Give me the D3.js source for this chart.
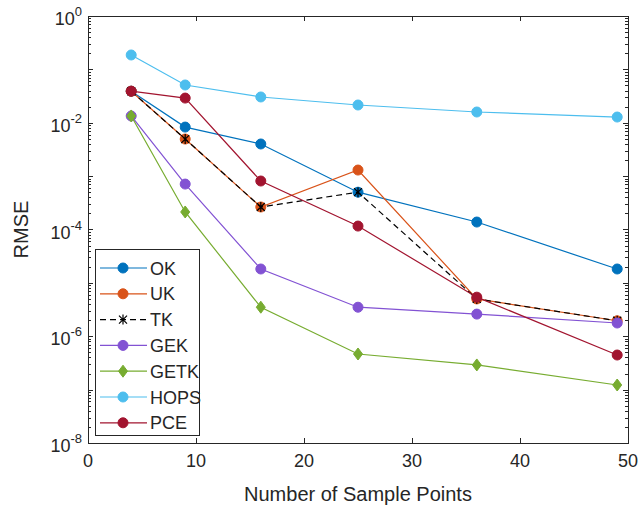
<!DOCTYPE html>
<html>
<head>
<meta charset="utf-8">
<script src="https://cdn.jsdelivr.net/npm/d3@7"></script>
<style>
  body { margin: 0; background: #fff; }
  text { font-family: "Liberation Sans", Arial, sans-serif; fill: #262626; }
</style>
</head>
<body>
<div id="chart"></div>
<script>
// sample counts
let samples = [4, 9, 16, 25, 36, 49]

// RMSE per method
let okVals   = [0.039, 0.0083, 0.0040, 5.0e-4, 1.38e-4, 1.82e-5]
let ukVals   = [0.039, 0.00495, 2.64e-4, 1.3e-3, 5.0e-6, 1.95e-6]
let tkVals   = [0.039, 0.00495, 2.64e-4, 5.0e-4, 5.0e-6, 1.95e-6]
let gekVals  = [0.0134, 7.1e-4, 1.82e-5, 3.5e-6, 2.6e-6, 1.77e-6]
let getkVals = [0.0134, 2.13e-4, 3.5e-6, 4.65e-7, 2.9e-7, 1.22e-7]
let hopsVals = [0.186, 0.051, 0.0304, 0.0215, 0.0159, 0.0128]
let pceVals  = [0.039, 0.029, 8.1e-4, 1.16e-4, 5.4e-6, 4.45e-7]

let names = ['OK', 'UK', 'TK', 'GEK', 'GETK', 'HOPS', 'PCE']
let xTicks = [0, 10, 20, 30, 40, 50]
let yLabelExps = [0, -2, -4, -6, -8]

let series = [
  { name: 'OK',   vals: okVals,   color: '#0072BD', marker: 'circle' },
  { name: 'UK',   vals: ukVals,   color: '#D95319', marker: 'circle' },
  { name: 'TK',   vals: tkVals,   color: '#000000', marker: 'star', dash: '6,4' },
  { name: 'GEK',  vals: gekVals,  color: '#8252D3', marker: 'circle' },
  { name: 'GETK', vals: getkVals, color: '#77AC30', marker: 'diamond' },
  { name: 'HOPS', vals: hopsVals, color: '#4DBEEE', marker: 'circle' },
  { name: 'PCE',  vals: pceVals,  color: '#A2142F', marker: 'circle' }
]

let width = 642
let height = 512
let margin = { left: 88, right: 14, top: 16, bottom: 69 }
let axisColor = '#262626'

let svg = d3.select('#chart').append('svg')
  .attr('width', width)
  .attr('height', height)

let xScale = d3.scaleLinear()
  .domain([0, 50])
  .range([margin.left, width - margin.right])

let yScale = d3.scaleLog()
  .domain([1e-8, 1])
  .range([height - margin.bottom, margin.top])

let x0 = margin.left, x1 = width - margin.right
let y0 = height - margin.bottom, y1 = margin.top

// -- ticks (inward, on all four sides)
let tickG = svg.append('g').attr('stroke', axisColor).attr('stroke-width', 1)
xTicks.forEach((t) => {
  let x = Math.round(xScale(t)) + 0.5
  tickG.append('line').attr('x1', x).attr('x2', x).attr('y1', y0).attr('y2', y0 - 5)
  tickG.append('line').attr('x1', x).attr('x2', x).attr('y1', y1).attr('y2', y1 + 5)
})
for (let e = -8; e < 0; e++) {
  for (let m = 1; m <= 9; m++) {
    let v = m * Math.pow(10, e)
    let y = Math.round(yScale(v)) + 0.5
    let len = m == 1 ? 5 : 3
    tickG.append('line').attr('x1', x0).attr('x2', x0 + len).attr('y1', y).attr('y2', y)
    tickG.append('line').attr('x1', x1).attr('x2', x1 - len).attr('y1', y).attr('y2', y)
  }
}

// -- box
svg.append('rect')
  .attr('x', x0 + 0.5).attr('y', y1 + 0.5)
  .attr('width', x1 - x0).attr('height', y0 - y1)
  .attr('fill', 'none').attr('stroke', axisColor).attr('stroke-width', 1)

// -- tick labels
svg.append('g').selectAll('text')
  .data(xTicks).enter().append('text')
  .attr('x', (d) => xScale(d))
  .attr('y', y0 + 24)
  .attr('text-anchor', 'middle')
  .style('font-size', '18px')
  .text((d) => d)

let yl = svg.append('g').selectAll('text')
  .data(yLabelExps).enter().append('text')
  .attr('x', x0 - 6)
  .attr('y', (d) => yScale(Math.pow(10, d)) + 9)
  .attr('text-anchor', 'end')
  .style('font-size', '18px')
yl.append('tspan').text('10')
yl.append('tspan')
  .attr('dy', -9)
  .style('font-size', '13px')
  .text((d) => d == 0 ? '0' : '-' + Math.abs(d))

// -- axis titles
svg.append('text')
  .attr('x', (x0 + x1) / 2)
  .attr('y', 501)
  .attr('text-anchor', 'middle')
  .style('font-size', '20px')
  .text('Number of Sample Points')

svg.append('text')
  .attr('transform', 'translate(28,' + ((y0 + y1) / 2) + ') rotate(-90)')
  .attr('text-anchor', 'middle')
  .style('font-size', '20px')
  .text('RMSE')

// -- marker drawing
function drawMarker(g, type, color, x, y) {
  if (type == 'circle') {
    g.append('circle').attr('cx', x).attr('cy', y).attr('r', 5)
      .attr('fill', color).attr('stroke', color).attr('stroke-width', 1)
  } else if (type == 'diamond') {
    g.append('path')
      .attr('d', 'M' + x + ',' + (y - 6) + 'L' + (x + 4.5) + ',' + y + 'L' + x + ',' + (y + 6) + 'L' + (x - 4.5) + ',' + y + 'Z')
      .attr('fill', color).attr('stroke', color).attr('stroke-width', 1)
  } else {
    let s = 4
    g.append('path')
      .attr('d', 'M' + (x - s) + ',' + (y - s) + 'L' + (x + s) + ',' + (y + s) +
                 'M' + (x - s) + ',' + (y + s) + 'L' + (x + s) + ',' + (y - s) +
                 'M' + x + ',' + (y - s - 1) + 'L' + x + ',' + (y + s + 1))
      .attr('fill', 'none').attr('stroke', color).attr('stroke-width', 1.2)
  }
}

let line = d3.line()
  .x((d) => xScale(d[0]))
  .y((d) => yScale(d[1]))

series.forEach((s) => {
  let pts = samples.map((x, i) => [x, s.vals[i]])
  let g = svg.append('g')
  g.append('path')
    .datum(pts)
    .attr('d', line)
    .attr('fill', 'none')
    .attr('stroke', s.color)
    .attr('stroke-width', 1.2)
    .attr('stroke-dasharray', s.dash || null)
  pts.forEach((p) => drawMarker(g, s.marker, s.color, xScale(p[0]), yScale(p[1])))
})

// -- legend
let lx = 95, ly = 249, lw = 104, rowH = 25.8
let legend = svg.append('g')
legend.append('rect')
  .attr('x', lx + 0.5).attr('y', ly + 0.5)
  .attr('width', lw).attr('height', 186)
  .attr('fill', '#fff').attr('stroke', axisColor).attr('stroke-width', 1)

series.forEach((s, i) => {
  let cy = ly + 19 + i * rowH
  legend.append('line')
    .attr('x1', lx + 5).attr('x2', lx + 52)
    .attr('y1', cy).attr('y2', cy)
    .attr('stroke', s.color).attr('stroke-width', 1.2)
    .attr('stroke-dasharray', s.dash || null)
  drawMarker(legend, s.marker, s.color, lx + 28, cy)
  legend.append('text')
    .attr('x', lx + 55)
    .attr('y', cy + 6.5)
    .style('font-size', '18px')
    .text(names[i])
})
</script>
</body>
</html>
